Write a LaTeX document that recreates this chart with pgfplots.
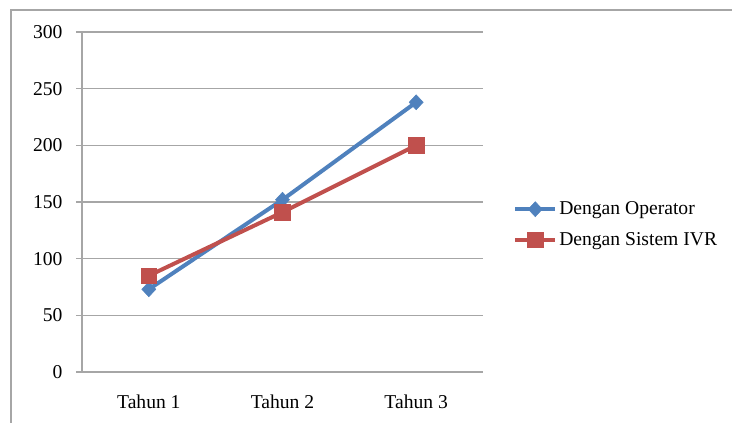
\documentclass[border=0pt]{standalone}
\usepackage{fontspec}
\setmainfont{Liberation Serif}
\usepackage{pgfplots}
\pgfplotsset{compat=1.18}
\definecolor{opblue}{HTML}{4F81BD}
\definecolor{ivrred}{HTML}{C0504D}
\definecolor{gridgray}{HTML}{A6A6A6}
\begin{document}
\begin{tikzpicture}
\useasboundingbox (0pt,0pt) rectangle (732pt,426pt);
\draw[gridgray, line width=1.5pt] (11pt,3pt) -- (11pt,416pt) -- (732pt,416pt);
\begin{axis}[
  at={(82pt,54pt)}, anchor=south west,
  scale only axis, width=401pt, height=340pt,
  xmin=-0.5, xmax=2.5, ymin=0, ymax=300,
  ytick={0,50,...,300},
  xtick={0,1,2},
  xticklabels={Tahun 1,Tahun 2,Tahun 3},
  major x tick style={draw=none},
  extra x ticks={-0.5,0.5,1.5,2.5},
  extra x tick labels={},
  extra x tick style={major tick length=6pt, tick style={gridgray, line width=1.2pt}, grid=none},
  tick align=outside,
  major tick length=6pt,
  ymajorgrids,
  grid style={gridgray, line width=1.5pt},
  axis x line*=bottom, axis y line*=left,
  axis line style={gridgray, line width=1.5pt, -},
  tick style={gridgray, line width=1.2pt},
  every tick label/.append style={font=\fontsize{19.6}{22}\selectfont, text=black},
  yticklabel style={xshift=-10pt},
  xticklabel style={yshift=-13pt},
  /pgf/number format/assume math mode=true,
  legend style={draw=none, fill=none, at={(1.075,0.434)}, anchor=west,
    font=\fontsize{19.6}{22}\selectfont, row sep=12pt, inner sep=0pt},
  legend cell align=left,
  legend image code/.code={\draw[#1, mark repeat=2, mark phase=2] plot coordinates {(0pt,0pt)(20pt,0pt)(40pt,0pt)};},
]
\addplot[opblue, line width=4pt, mark=diamond*, mark size=7.5pt, mark options={solid, line width=0.5pt, xscale=1.25}]
  coordinates {(0,73) (1,152) (2,238)};
\addlegendentry{Dengan Operator}
\addplot[ivrred, line width=4pt, mark=square*, mark size=7.8pt, mark options={solid, line width=0.5pt}]
  coordinates {(0,85) (1,141) (2,200)};
\addlegendentry{Dengan Sistem IVR}
\end{axis}
\end{tikzpicture}
\end{document}
